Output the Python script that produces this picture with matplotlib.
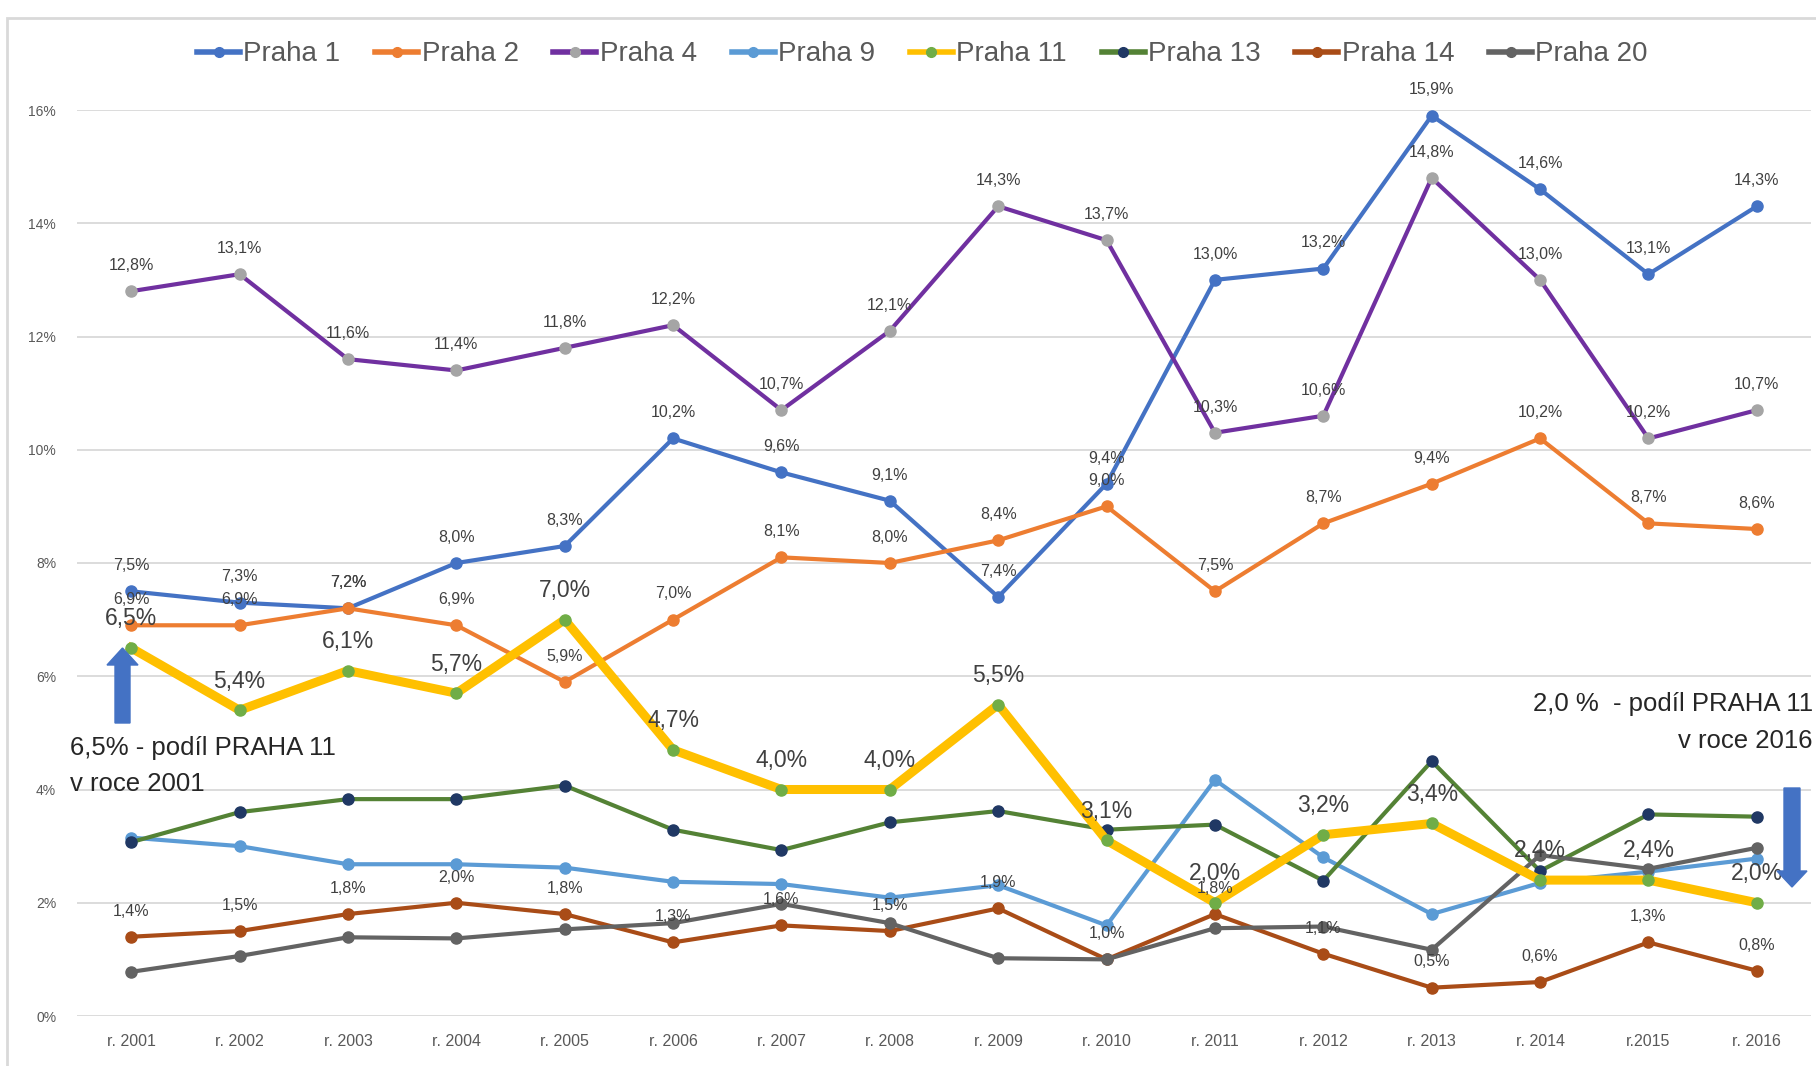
import matplotlib.pyplot as plt
from matplotlib.patches import FancyArrow, Rectangle
from matplotlib.lines import Line2D
from matplotlib.transforms import Affine2D

years = ["r. 2001", "r. 2002", "r. 2003", "r. 2004", "r. 2005", "r. 2006", "r. 2007", "r. 2008",
         "r. 2009", "r. 2010", "r. 2011", "r. 2012", "r. 2013", "r. 2014", "r.2015", "r. 2016"]

praha1 = [7.5, 7.3, 7.2, 8.0, 8.3, 10.2, 9.6, 9.1, 7.4, 9.4, 13.0, 13.2, 15.9, 14.6, 13.1, 14.3]
praha2 = [6.9, 6.9, 7.2, 6.9, 5.9, 7.0, 8.1, 8.0, 8.4, 9.0, 7.5, 8.7, 9.4, 10.2, 8.7, 8.6]
praha4 = [12.8, 13.1, 11.6, 11.4, 11.8, 12.2, 10.7, 12.1, 14.3, 13.7, 10.3, 10.6, 14.8, 13.0, 10.2, 10.7]
praha9 = [3.15, 3.0, 2.68, 2.68, 2.62, 2.37, 2.33, 2.09, 2.31, 1.6, 4.17, 2.8, 1.8, 2.35, 2.55, 2.78]
praha11 = [6.5, 5.4, 6.1, 5.7, 7.0, 4.7, 4.0, 4.0, 5.5, 3.1, 2.0, 3.2, 3.4, 2.4, 2.4, 2.0]
praha13 = [3.07, 3.6, 3.83, 3.83, 4.07, 3.29, 2.93, 3.42, 3.62, 3.29, 3.38, 2.39, 4.5, 2.56, 3.56, 3.52]
praha14 = [1.4, 1.5, 1.8, 2.0, 1.8, 1.3, 1.6, 1.5, 1.9, 1.0, 1.8, 1.1, 0.5, 0.6, 1.3, 0.8]
praha20 = [0.78, 1.06, 1.39, 1.37, 1.53, 1.64, 1.98, 1.64, 1.02, 1.0, 1.55, 1.58, 1.17, 2.84, 2.6, 2.97]

W, H = 1816, 1066
FONT = ['Liberation Sans', 'DejaVu Sans']

# name, values, line colour, marker colour, line width, labels?, label size
series = [
    ("Praha 1", praha1, "#4472C4", "#4472C4", 3.0, True, 11.5),
    ("Praha 2", praha2, "#ED7D31", "#ED7D31", 3.0, True, 11.5),
    ("Praha 4", praha4, "#7030A0", "#A5A5A5", 3.0, True, 11.5),
    ("Praha 9", praha9, "#5B9BD5", "#5B9BD5", 3.0, False, 11.5),
    ("Praha 11", praha11, "#FFC000", "#70AD47", 6.5, True, 16.5),
    ("Praha 13", praha13, "#548235", "#203864", 3.0, False, 11.5),
    ("Praha 14", praha14, "#A94C17", "#A94C17", 3.0, True, 11.5),
    ("Praha 20", praha20, "#636363", "#636363", 3.0, False, 11.5),
]

fig = plt.figure(figsize=(W / 100, H / 100), dpi=100)
px = Affine2D().scale(1 / W, 1 / H) + fig.transFigure

# light frame of the chart area
fig.patches.append(Rectangle((7, -20), W + 20, H - 18 + 20, transform=px,
                             fill=False, edgecolor="#D9D9D9", linewidth=2))

ax = fig.add_axes([77 / W, 50 / H, (1811 - 77) / W, (1016 - 110) / H])
x = list(range(len(years)))

order = [0, 1, 2, 3, 5, 6, 7, 4]
for i in order:
    name, vals, lc, mc, lw, lab, fs = series[i]
    ax.plot(x, vals, color=lc, linewidth=lw, marker="o", markersize=8,
            markerfacecolor=mc, markeredgecolor=mc, solid_joinstyle="round",
            zorder=4 if name == "Praha 11" else 3)

for name, vals, lc, mc, lw, lab, fs in series:
    if not lab:
        continue
    off = 21 if fs > 12 else 18.5
    for xi, v in zip(x, vals):
        ax.annotate(f"{v:.1f}%".replace(".", ","), (xi, v), xytext=(0, off),
                    textcoords="offset points", ha="center", va="center",
                    fontsize=fs, family=FONT, color="#404040", zorder=6)

ax.set_xlim(-0.5, len(years) - 0.5)
ax.set_ylim(0, 16)
ax.set_yticks(range(0, 17, 2))
ax.set_yticklabels([f"{t}%" for t in range(0, 17, 2)])
ax.set_xticks(x)
ax.set_xticklabels(years)
for t in ax.get_yticklabels():
    t.set_family(FONT)
    t.set_fontsize(10)
    t.set_color("#595959")
for t in ax.get_xticklabels():
    t.set_family(FONT)
    t.set_fontsize(11.5)
    t.set_color("#595959")
ax.tick_params(length=0)
ax.tick_params(axis="y", pad=15)
ax.tick_params(axis="x", pad=13)
ax.grid(axis="y", color="#D9D9D9", linewidth=1.3)
ax.set_axisbelow(True)
for s in ax.spines.values():
    s.set_visible(False)

leg_handles = [Line2D([], [], color=s[2], linewidth=4, marker="o", markersize=7,
                      markerfacecolor=s[3], markeredgecolor=s[3]) for s in series]
fig.legend(leg_handles, [s[0] for s in series], loc="center", bbox_to_anchor=(0.508, 0.949),
           ncol=8, frameon=False, handlelength=1.55, handletextpad=0.12, columnspacing=1.25,
           prop={"family": FONT, "size": 20}, labelcolor="#595959")

# arrows and notes
fig.patches.append(FancyArrow(122.5, H - 723, 0, 75, width=15, head_width=31, head_length=17,
                              length_includes_head=True, transform=px, color="#4472C4"))
fig.patches.append(FancyArrow(1792, H - 788, 0, -99, width=16, head_width=30, head_length=16,
                              length_includes_head=True, transform=px, color="#4472C4"))
fig.text(70, H - 748, "6,5% - podíl PRAHA 11", transform=px, ha="left", va="center",
         family=FONT, fontsize=18.5, color="#262626")
fig.text(70, H - 784, "v roce 2001", transform=px, ha="left", va="center",
         family=FONT, fontsize=18.5, color="#262626")
fig.text(1813, H - 704, "2,0 %  - podíl PRAHA 11", transform=px, ha="right", va="center",
         family=FONT, fontsize=18.5, color="#262626")
fig.text(1813, H - 741, "v roce 2016", transform=px, ha="right", va="center",
         family=FONT, fontsize=18.5, color="#262626")

fig.savefig("out.png", dpi=100)
